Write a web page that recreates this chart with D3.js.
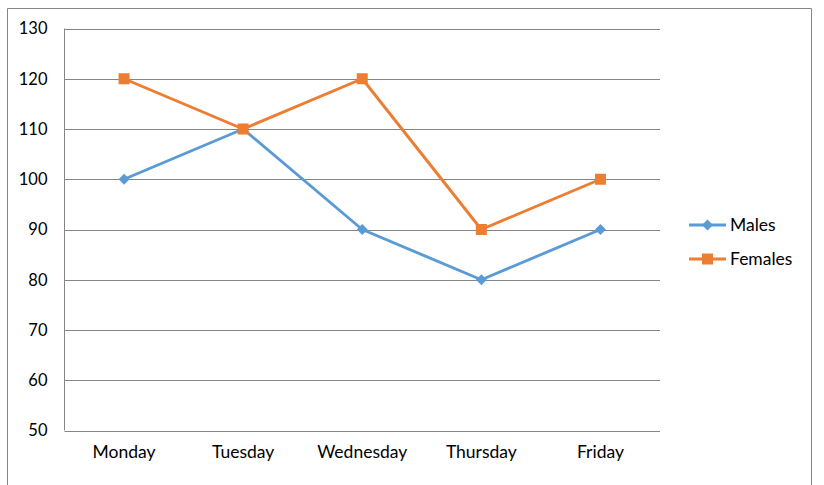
<!DOCTYPE html>
<html><head><meta charset="utf-8">
<script src="https://cdn.jsdelivr.net/npm/d3@7"></script>
<style>body{margin:0;background:#fff}svg{display:block}text{font-family:Lato,"Open Sans",sans-serif;fill:#000}</style>
</head><body><svg id="c" width="824" height="485"></svg>
<script>
const categories = ["Monday","Tuesday","Wednesday","Thursday","Friday"];
const males = [100,110,90,80,90];
const females = [120,110,120,90,100];
const yTicks = [50,60,70,80,90,100,110,120,130];
const seriesNames = ["Males","Females"];
const colors = ["#5B9BD5","#ED7D31"];

const svg = d3.select("#c");
// outer border
svg.append("path").attr("d","M7.5,485 V8.5 H811.5 V485").attr("fill","none").attr("stroke","#868686").attr("stroke-width",1);

const L=64.5, R=660, T=28.5, B=430.5;
const x = d3.scaleBand().domain(categories).range([L,R]);
const y = d3.scaleLinear().domain([50,130]).range([B,T]);

const g = svg.append("g");
g.selectAll("line.grid").data(yTicks).join("line")
 .attr("x1",L).attr("x2",R).attr("y1",d=>Math.round(y(d))+0.5).attr("y2",d=>Math.round(y(d))+0.5)
 .attr("stroke","#868686").attr("stroke-width",1);
g.append("line").attr("x1",L).attr("x2",L).attr("y1",T).attr("y2",B).attr("stroke","#868686");

const yAxis = d3.axisLeft(y).tickValues(yTicks).tickSize(0).tickPadding(17);
const ya = svg.append("g").attr("transform",`translate(${L},0)`).call(yAxis);
ya.select(".domain").remove();
ya.selectAll("text").attr("font-size",16.5).attr("font-family","Lato, sans-serif").attr("fill","#000");

const xAxis = d3.axisBottom(x).tickSize(0).tickPadding(15);
const xa = svg.append("g").attr("transform",`translate(0,${B})`).call(xAxis);
xa.select(".domain").remove();
xa.selectAll("text").attr("font-size",17.5).attr("font-family","Lato, sans-serif").attr("fill","#000");

const cx = d=>x(d)+x.bandwidth()/2;
const line = d3.line().x((d,i)=>cx(categories[i])).y(d=>y(d));
const data=[males,females];

data.forEach((s,k)=>{
  svg.append("path").datum(s).attr("d",line).attr("fill","none").attr("stroke",colors[k]).attr("stroke-width",2.9).attr("stroke-linejoin","round");
});
const diamond = (cx0,cy0,r)=>`M${cx0},${cy0-r}L${cx0+r},${cy0}L${cx0},${cy0+r}L${cx0-r},${cy0}Z`;
svg.selectAll("path.dm").data(males).join("path").attr("class","dm")
 .attr("d",(d,i)=>diamond(cx(categories[i]),y(d),5.5)).attr("fill",colors[0]);
svg.selectAll("rect.sq").data(females).join("rect").attr("class","sq")
 .attr("x",(d,i)=>cx(categories[i])-5.5).attr("y",d=>y(d)-5.5).attr("width",11).attr("height",11).attr("fill",colors[1]);

const ly=[225,259];
seriesNames.forEach((n,k)=>{
  svg.append("line").attr("x1",689).attr("x2",726).attr("y1",ly[k]).attr("y2",ly[k]).attr("stroke",colors[k]).attr("stroke-width",2.9);
  if(k===0) svg.append("path").attr("d",diamond(707.5,ly[k],5.5)).attr("fill",colors[k]);
  else svg.append("rect").attr("x",702).attr("y",ly[k]-5.5).attr("width",11).attr("height",11).attr("fill",colors[k]);
  svg.append("text").attr("x",730).attr("y",ly[k]).attr("dy","0.35em").attr("font-size",17.5).text(n);
});
</script></body></html>
